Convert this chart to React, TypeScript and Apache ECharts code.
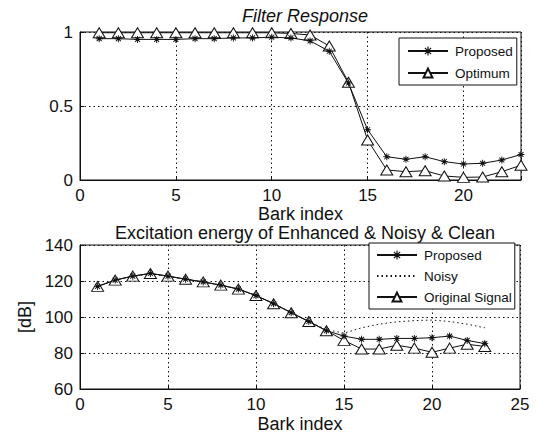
import React, { useEffect, useRef } from "react";
import * as echarts from "echarts";

// ---------- data ----------
const barkTop = [1, 2, 3, 4, 5, 6, 7, 8, 9, 10, 11, 12, 13, 14, 15, 16, 17, 18, 19, 20, 21, 22, 23];
const proposedTop = [0.955, 0.955, 0.95, 0.95, 0.95, 0.955, 0.955, 0.96, 0.96, 0.965, 0.96, 0.94, 0.87, 0.655, 0.34, 0.157, 0.14, 0.157, 0.124, 0.108, 0.113, 0.135, 0.172];
const optimumTop = [0.995, 0.995, 0.995, 0.995, 0.995, 0.995, 0.995, 0.995, 0.995, 0.995, 0.99, 0.98, 0.905, 0.66, 0.27, 0.068, 0.056, 0.063, 0.027, 0.018, 0.02, 0.056, 0.1];

const barkBottom = [1, 2, 3, 4, 5, 6, 7, 8, 9, 10, 11, 12, 13, 14, 15, 16, 17, 18, 19, 20, 21, 22, 23];
const proposedBottom = [117, 120.5, 122.7, 124.2, 122.7, 121, 119.5, 117.7, 115.5, 111.9, 107.4, 102.4, 97.5, 92.4, 89.4, 87.6, 87.6, 88.1, 88.1, 88.5, 89.4, 87, 85.2];
const noisyBottom = [117, 120.5, 122.5, 124, 122.7, 121, 119.5, 117.7, 115.5, 112, 107.5, 102.5, 97.5, 93, 91, 94, 96, 97.3, 98, 98.3, 97.5, 96, 94];
const originalBottom = [117, 120.5, 122.7, 124.2, 122.7, 121, 119.5, 117.7, 115.5, 111.9, 107.4, 102.4, 97.5, 92.4, 87, 82.2, 82.2, 84.3, 82.7, 80.4, 82.7, 84.9, 83.6];

const topXTicks = [0, 5, 10, 15, 20];

// ---------- styling helpers ----------
const FONT = "Liberation Sans, Arial, sans-serif";
const BLACK = "#111";

function asteriskPath(): string {
  const r = 6;
  const w = 0.8;
  const parts: string[] = [];
  for (let k = 0; k < 4; k++) {
    const a = (k * Math.PI) / 4;
    const c = Math.cos(a), s = Math.sin(a);
    const px = -s * w, py = c * w;
    const pts = [
      [r * c + px, r * s + py],
      [-r * c + px, -r * s + py],
      [-r * c - px, -r * s - py],
      [r * c - px, r * s - py],
    ];
    parts.push("M" + pts.map((p) => p[0].toFixed(3) + "," + p[1].toFixed(3)).join(" L") + " Z");
  }
  const cr = 2.9;
  const circ: string[] = [];
  for (let i = 0; i < 12; i++) {
    const a = (i * Math.PI) / 6;
    circ.push((cr * Math.cos(a)).toFixed(3) + "," + (cr * Math.sin(a)).toFixed(3));
  }
  parts.push("M" + circ.join(" L") + " Z");
  return "path://" + parts.join(" ");
}
const STAR = asteriskPath();

const pair = (xs: number[], ys: number[]) => xs.map((x, i) => [x, ys[i]]);

export default function App() {
  const ref = useRef<HTMLDivElement>(null);
  useEffect(() => {
    if (!ref.current) return;
    const chart = echarts.init(ref.current, undefined, { renderer: "svg" });

    const axisCommon = {
      axisLine: { show: true, lineStyle: { color: BLACK, width: 1 } },
      axisTick: { show: true, inside: true, length: 4, lineStyle: { color: BLACK } },
      splitLine: { show: true, lineStyle: { color: BLACK, type: [1.5, 3] as any, width: 1 } },
      axisLabel: { color: BLACK, fontSize: 17, fontFamily: FONT, margin: 7 },
      nameTextStyle: { color: BLACK, fontSize: 18, fontFamily: FONT },
    };

    const legendCommon = {
      orient: "vertical" as const,
      backgroundColor: "#fff",
      borderColor: BLACK,
      borderWidth: 1,
      borderRadius: 0,
      itemHeight: 11,
      textStyle: { color: BLACK, fontSize: 13.5, fontFamily: FONT, padding: [0, 0, 0, 2] },
      selectedMode: false,
    };

    const option: any = {
      animation: false,
      backgroundColor: "#fff",
      title: [
        {
          text: "Filter Response",
          left: 300,
          top: 2,
          textAlign: "center",
          textStyle: { fontSize: 18, fontStyle: "italic", fontWeight: "normal", color: BLACK, fontFamily: FONT },
        },
        {
          text: "Excitation energy of Enhanced & Noisy & Clean",
          left: 300,
          top: 219,
          textAlign: "center",
          textStyle: { fontSize: 18, fontWeight: "normal", color: BLACK, fontFamily: FONT },
        },
      ],
      grid: [
        { left: 80, top: 32, width: 441, height: 148, show: true, borderColor: BLACK, borderWidth: 1, backgroundColor: "transparent" },
        { left: 80, top: 245, width: 440, height: 147, show: true, borderColor: BLACK, borderWidth: 1, backgroundColor: "transparent" },
      ],
      xAxis: [
        {
          ...axisCommon,
          type: "value",
          gridIndex: 0,
          min: 0,
          max: 23,
          interval: 5,
          name: "Bark index",
          nameLocation: "middle",
          nameGap: 24,
          axisLabel: {
            ...axisCommon.axisLabel,
            formatter: (v: number) => (topXTicks.includes(v) ? String(v) : ""),
          },
        },
        {
          ...axisCommon,
          type: "value",
          gridIndex: 1,
          min: 0,
          max: 25,
          interval: 5,
          name: "Bark index",
          nameLocation: "middle",
          nameGap: 26,
        },
      ],
      yAxis: [
        { ...axisCommon, type: "value", gridIndex: 0, min: 0, max: 1, interval: 0.5 },
        {
          ...axisCommon,
          type: "value",
          gridIndex: 1,
          min: 60,
          max: 140,
          interval: 20,
          name: "[dB]",
          nameLocation: "middle",
          nameGap: 46,
          nameRotate: 90,
        },
      ],
      legend: [
        {
          ...legendCommon,
          data: ["Proposed", "Optimum"],
          left: 399,
          top: 38,
          padding: [6, 4, 5, 8],
          itemGap: 8,
          itemWidth: 40,
        },
        {
          ...legendCommon,
          data: ["Proposed", { name: "Noisy", itemStyle: { opacity: 0 } }, "Original Signal"],
          left: 369,
          top: 243,
          padding: [5, 3, 5, 7],
          itemGap: 7,
          itemWidth: 40,
        },
      ],
      series: [
        {
          name: "Optimum",
          type: "line",
          xAxisIndex: 0,
          yAxisIndex: 0,
          data: pair(barkTop, optimumTop),
          symbol: "triangle",
          symbolSize: [12, 10],
          showAllSymbol: true,
          lineStyle: { color: BLACK, width: 1 },
          itemStyle: { color: "#fff", borderColor: BLACK, borderWidth: 1 },
          z: 2,
        },
        {
          name: "Proposed",
          type: "line",
          xAxisIndex: 0,
          yAxisIndex: 0,
          data: pair(barkTop, proposedTop),
          symbol: STAR,
          symbolSize: 7,
          showAllSymbol: true,
          lineStyle: { color: BLACK, width: 1 },
          itemStyle: { color: BLACK, borderWidth: 0 },
          z: 3,
        },
        {
          name: "Noisy",
          type: "line",
          xAxisIndex: 1,
          yAxisIndex: 1,
          data: pair(barkBottom, noisyBottom),
          symbol: "none",
          lineStyle: { color: BLACK, width: 1, type: [1.5, 3] },
          itemStyle: { color: BLACK },
          z: 1,
        },
        {
          name: "Original Signal",
          type: "line",
          xAxisIndex: 1,
          yAxisIndex: 1,
          data: pair(barkBottom, originalBottom),
          symbol: "triangle",
          symbolSize: [12, 10],
          showAllSymbol: true,
          lineStyle: { color: BLACK, width: 1 },
          itemStyle: { color: "#fff", borderColor: BLACK, borderWidth: 1 },
          z: 2,
        },
        {
          name: "Proposed",
          type: "line",
          xAxisIndex: 1,
          yAxisIndex: 1,
          data: pair(barkBottom, proposedBottom),
          symbol: STAR,
          symbolSize: 7,
          showAllSymbol: true,
          lineStyle: { color: BLACK, width: 1 },
          itemStyle: { color: BLACK, borderWidth: 0 },
          z: 3,
        },
      ],
    };

    chart.setOption(option);
    return () => chart.dispose();
  }, []);

  return (
    <div
      ref={ref}
      style={{ position: "fixed", left: 0, top: 0, width: 540, height: 434, background: "#fff" }}
    />
  );
}
